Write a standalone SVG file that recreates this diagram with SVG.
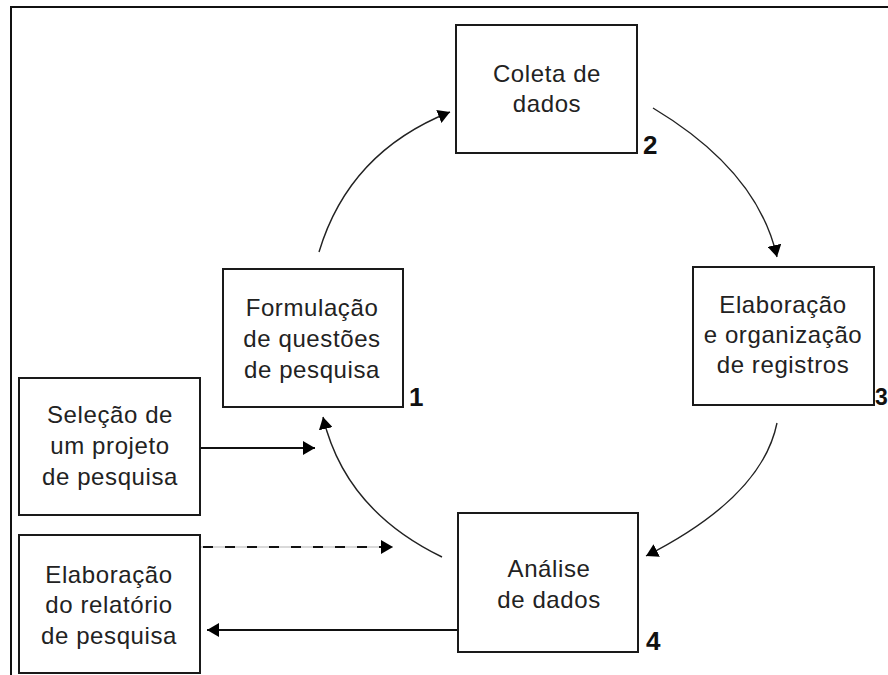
<svg xmlns="http://www.w3.org/2000/svg" width="888" height="675" viewBox="0 0 888 675">
<defs>
<style>
.box{fill:#fff;stroke:#1a1a1a;stroke-width:2}
.t{font-family:"Liberation Sans",Arial,sans-serif;font-size:24px;fill:#222;text-anchor:middle;letter-spacing:0.6px}
.n{font-family:"Liberation Sans",Arial,sans-serif;font-size:26px;font-weight:bold;fill:#111}
.c{fill:none;stroke:#222;stroke-width:1.4}
.s{fill:none;stroke:#111;stroke-width:1.8}
</style>
<marker id="ah" markerUnits="userSpaceOnUse" markerWidth="13" markerHeight="14" refX="12" refY="7" orient="auto">
<path d="M0,0 L12,7 L0,14 z" fill="#000"/>
</marker>
</defs>
<rect width="888" height="675" fill="#fff"/>
<path d="M11,675 L11,7 L888,7" fill="none" stroke="#111" stroke-width="2"/>
<g id="connectors">
<path class="c" d="M319,252 Q349,152 450,112" marker-end="url(#ah)"/>
<path class="c" d="M653,108 Q758,171 777,257" marker-end="url(#ah)"/>
<path class="c" d="M777,423 Q762,497 646,556" marker-end="url(#ah)"/>
<path class="c" d="M442,557 Q345,510 323,417" marker-end="url(#ah)"/>
<path class="s" d="M200,448 L315,448" marker-end="url(#ah)"/>
<path d="M200,547 L393,547" stroke="#ccc" stroke-width="1.5" fill="none"/>
<path class="s" d="M203,547 L393,547" stroke-dasharray="10 12" marker-end="url(#ah)"/>
<path class="s" d="M458,630 L207,630" marker-end="url(#ah)"/>
</g>
<g id="coleta">
<rect class="box" x="456" y="25" width="181" height="128"/>
<text class="t" x="547" y="82">Coleta de</text>
<text class="t" x="547" y="112">dados</text>
<text class="n" x="643" y="154">2</text>
</g>
<g id="formulacao">
<rect class="box" x="223" y="269" width="180" height="138"/>
<text class="t" x="312" y="316">Formulação</text>
<text class="t" x="312" y="347">de questões</text>
<text class="t" x="312" y="378">de pesquisa</text>
<text class="n" x="409" y="406">1</text>
</g>
<g id="elaboracao-registros">
<rect class="box" x="693" y="267" width="181" height="138"/>
<text class="t" x="783" y="313">Elaboração</text>
<text class="t" x="783" y="343">e organização</text>
<text class="t" x="783" y="373">de registros</text>
<text class="n" x="875" y="405" style="font-size:23px">3</text>
</g>
<g id="analise">
<rect class="box" x="458" y="513" width="180" height="139"/>
<text class="t" x="549" y="577">Análise</text>
<text class="t" x="549" y="608">de dados</text>
<text class="n" x="646" y="650">4</text>
</g>
<g id="selecao">
<rect class="box" x="19" y="378" width="181" height="137"/>
<text class="t" x="110" y="423">Seleção de</text>
<text class="t" x="110" y="454">um projeto</text>
<text class="t" x="110" y="485">de pesquisa</text>
</g>
<g id="relatorio">
<rect class="box" x="19" y="535" width="181" height="138"/>
<text class="t" x="109" y="583">Elaboração</text>
<text class="t" x="109" y="613">do relatório</text>
<text class="t" x="109" y="644">de pesquisa</text>
</g>
</svg>
